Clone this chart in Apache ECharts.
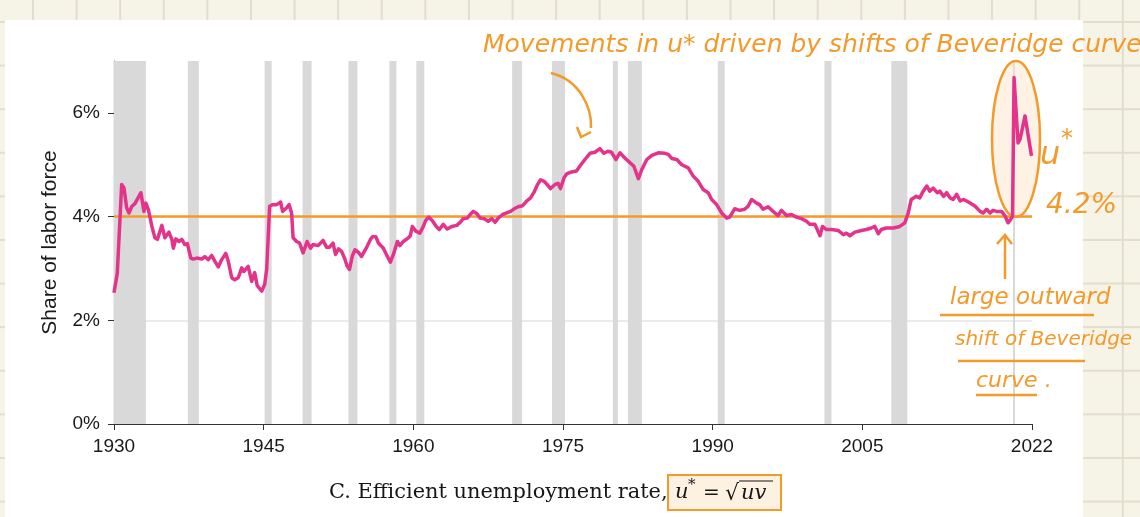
<!DOCTYPE html>
<html>
<head>
<meta charset="utf-8">
<script src="https://cdn.jsdelivr.net/npm/echarts@6/dist/echarts.min.js"></script>
<style>
  html, body {
    margin: 0;
    padding: 0;
  }
  body {
    width: 1140px;
    height: 517px;
    overflow: hidden;
    position: relative;
    background-color: #f6f3e7;
    background-image:
      linear-gradient(to right, #e2dece 1.5px, transparent 1.5px),
      linear-gradient(to bottom, #e2dece 1.5px, transparent 1.5px);
    background-size: 43.6px 43.6px;
    background-position: 32px 21px;
  }
  .panel {
    position: absolute;
    left: 5px;
    top: 20px;
    width: 1078px;
    height: 497px;
    background: #fff;
  }
  #chart {
    position: absolute;
    left: 0;
    top: 0;
    width: 1140px;
    height: 517px;
  }
</style>
</head>
<body>
<div class="panel"></div>
<div id="chart"></div>
<script>
// efficient unemployment rate u* (% of labor force)
var years = [
  1930.0, 1930.33, 1930.77, 1931.0, 1931.27, 1931.5, 1931.8, 1932.1, 1932.3, 1932.7,
  1932.85, 1933.0, 1933.2, 1933.45, 1933.8, 1934.1, 1934.35, 1934.8, 1935.1, 1935.5,
  1935.8, 1935.95, 1936.2, 1936.5, 1936.8, 1937.1, 1937.35, 1937.7, 1937.95, 1938.3,
  1938.8, 1939.1, 1939.45, 1939.8, 1940.1, 1940.45, 1940.8, 1941.2, 1941.45, 1941.8,
  1942.1, 1942.45, 1942.8, 1943.0, 1943.45, 1943.8, 1944.1, 1944.35, 1944.8, 1945.1,
  1945.3, 1945.6, 1945.9, 1946.3, 1946.7, 1946.9, 1947.2, 1947.55, 1947.8, 1947.95,
  1948.3, 1948.6, 1948.95, 1949.35, 1949.7, 1949.95, 1950.45, 1950.95, 1951.3, 1951.6,
  1951.95, 1952.2, 1952.5, 1952.8, 1953.1, 1953.35, 1953.6, 1953.9, 1954.15, 1954.5,
  1954.8, 1955.25, 1955.7, 1955.9, 1956.25, 1956.5, 1956.7, 1957.0, 1957.3, 1957.7,
  1958.0, 1958.4, 1958.65, 1959.0, 1959.5, 1959.7, 1959.9, 1960.25, 1960.65, 1961.0,
  1961.25, 1961.55, 1961.95, 1962.3, 1962.6, 1963.0, 1963.4, 1963.85, 1964.35, 1964.7,
  1965.0, 1965.4, 1965.7, 1966.0, 1966.35, 1966.7, 1967.1, 1967.5, 1967.85, 1968.2,
  1968.5, 1968.95, 1969.35, 1969.75, 1970.1, 1970.5, 1970.95, 1971.35, 1971.75, 1972.1,
  1972.4, 1972.75, 1973.1, 1973.4, 1973.75, 1974.2, 1974.5, 1974.75, 1975.1, 1975.4,
  1975.85, 1976.35, 1976.75, 1977.2, 1977.7, 1978.2, 1978.7, 1979.1, 1979.5, 1979.85,
  1980.3, 1980.7, 1981.2, 1981.7, 1982.1, 1982.55, 1982.9, 1983.4, 1983.9, 1984.55,
  1985.2, 1985.55, 1985.9, 1986.4, 1986.9, 1987.55, 1988.05, 1988.55, 1989.05, 1989.55,
  1989.9, 1990.4, 1990.9, 1991.4, 1991.7, 1992.2, 1992.7, 1993.2, 1993.55, 1993.9,
  1994.4, 1994.7, 1995.05, 1995.55, 1996.05, 1996.55, 1996.9, 1997.4, 1997.9, 1998.4,
  1998.9, 1999.4, 1999.75, 2000.25, 2000.75, 2001.0, 2001.4, 2001.9, 2002.6, 2003.1,
  2003.4, 2003.75, 2004.25, 2004.9, 2005.4, 2005.9, 2006.25, 2006.6, 2006.9, 2007.4,
  2008.1, 2008.75, 2009.25, 2009.6, 2009.9, 2010.4, 2010.75, 2011.1, 2011.45, 2011.75,
  2012.1, 2012.5, 2012.75, 2013.15, 2013.45, 2013.8, 2014.1, 2014.45, 2014.8, 2015.1,
  2015.45, 2015.8, 2016.3, 2016.8, 2017.1, 2017.45, 2017.8, 2018.1, 2018.45, 2018.95,
  2019.3, 2019.6, 2019.85, 2020.05, 2020.2, 2020.6, 2020.8, 2021.3, 2021.5, 2021.95
];
var uStar = [
  2.53, 2.91, 4.62, 4.55, 4.17, 4.07, 4.20, 4.25, 4.28, 4.46,
  4.46, 4.10, 4.26, 4.13, 3.81, 3.59, 3.56, 3.83, 3.59, 3.70,
  3.56, 3.39, 3.57, 3.52, 3.56, 3.46, 3.48, 3.20, 3.18, 3.20,
  3.18, 3.23, 3.17, 3.25, 3.14, 3.03, 3.17, 3.29, 3.14, 2.82,
  2.78, 2.82, 3.01, 2.94, 3.04, 2.75, 2.92, 2.67, 2.56, 2.69,
  2.98, 4.20, 4.23, 4.23, 4.28, 4.10, 4.15, 4.23, 4.07, 3.59,
  3.52, 3.49, 3.30, 3.52, 3.39, 3.46, 3.44, 3.54, 3.41, 3.41,
  3.49, 3.27, 3.38, 3.33, 3.20, 3.05, 2.98, 3.25, 3.36, 3.31,
  3.23, 3.38, 3.56, 3.61, 3.61, 3.49, 3.49, 3.39, 3.27, 3.12,
  3.27, 3.52, 3.44, 3.52, 3.59, 3.63, 3.81, 3.72, 3.68, 3.81,
  3.93, 3.99, 3.91, 3.81, 3.75, 3.85, 3.76, 3.81, 3.83, 3.89,
  3.96, 3.97, 4.04, 4.10, 4.06, 3.97, 3.96, 3.91, 3.96, 3.89,
  3.97, 4.04, 4.07, 4.10, 4.15, 4.19, 4.21, 4.30, 4.36, 4.47,
  4.60, 4.71, 4.68, 4.62, 4.54, 4.62, 4.64, 4.54, 4.75, 4.83,
  4.86, 4.88, 4.99, 5.10, 5.22, 5.24, 5.31, 5.22, 5.26, 5.24,
  5.10, 5.23, 5.13, 5.04, 4.97, 4.73, 4.91, 5.10, 5.18, 5.23,
  5.22, 5.20, 5.12, 5.10, 5.00, 4.94, 4.78, 4.68, 4.52, 4.46,
  4.33, 4.23, 4.07, 3.97, 3.99, 4.15, 4.12, 4.14, 4.20, 4.33,
  4.26, 4.23, 4.14, 4.19, 4.10, 4.02, 4.12, 4.02, 4.04, 3.99,
  3.96, 3.91, 3.85, 3.85, 3.63, 3.81, 3.75, 3.75, 3.73, 3.65,
  3.68, 3.63, 3.70, 3.73, 3.75, 3.78, 3.81, 3.67, 3.75, 3.78,
  3.78, 3.81, 3.88, 4.07, 4.33, 4.39, 4.36, 4.49, 4.59, 4.49,
  4.55, 4.46, 4.49, 4.39, 4.46, 4.36, 4.33, 4.43, 4.30, 4.33,
  4.30, 4.26, 4.20, 4.10, 4.07, 4.14, 4.07, 4.12, 4.10, 4.10,
  4.01, 3.88, 3.94, 4.01, 6.68, 5.42, 5.49, 5.94, 5.91, 5.17
];
// NBER recessions (shaded)
var recessionStart = [1930.0, 1937.4, 1945.1, 1948.9, 1953.5, 1957.6, 1960.3, 1969.9, 1973.9, 1980.0, 1981.5, 1990.5, 2001.2, 2007.9, 2020.1];
var recessionEnd   = [1933.2, 1938.5, 1945.8, 1949.8, 1954.4, 1958.3, 1961.1, 1970.9, 1975.2, 1980.5, 1982.9, 1991.2, 2001.9, 2009.5, 2020.3];
var xTickYears = [1930, 1945, 1960, 1975, 1990, 2005, 2022];
var yTickValues = [0, 2, 4, 6];
var targetRate = 4;

var ORANGE = "#f39a2b";
var HAND = "DejaVu Sans";

var chart = echarts.init(document.getElementById("chart"));

var recessionAreas = recessionStart.map(function (s, i) {
  return [{ xAxis: s }, { xAxis: recessionEnd[i] }];
});

// little helper for the orange scribbles
function note(text, x, y, size) {
  return {
    type: "text",
    z: 10,
    style: {
      text: text,
      x: x,
      y: y,
      verticalAlign: "middle",
      fill: ORANGE,
      font: "italic " + size + "px " + HAND,
    },
  };
}
function stroke(x1, y1, x2, y2) {
  return {
    type: "line",
    z: 10,
    shape: { x1: x1, y1: y1, x2: x2, y2: y2 },
    style: { stroke: ORANGE, lineWidth: 2.5 },
  };
}

var option = {
  backgroundColor: "transparent",
  animation: false,
  grid: {
    left: 114,
    right: 108,
    top: 61,
    bottom: 93,
  },
  xAxis: {
    type: "value",
    min: 1930,
    max: 2022,
    axisLine: {
      lineStyle: { color: "#333", width: 1.2 },
    },
    axisTick: {
      customValues: xTickYears,
      length: 6,
      lineStyle: { color: "#333" },
    },
    axisLabel: {
      customValues: xTickYears,
      formatter: function (v) {
        return String(v);
      },
      fontFamily: "Liberation Sans",
      fontSize: 19,
      color: "#1a1a1a",
      margin: 13,
    },
    splitLine: { show: false },
  },
  yAxis: {
    type: "value",
    min: 0,
    max: 7,
    interval: 2,
    name: "Share of labor force",
    nameLocation: "middle",
    nameGap: 53,
    nameTextStyle: {
      fontFamily: "Liberation Sans",
      fontSize: 21,
      color: "#1a1a1a",
    },
    axisLine: {
      show: true,
      lineStyle: { color: "#333", width: 1.2 },
    },
    axisTick: {
      show: true,
      customValues: yTickValues,
      length: 6,
      lineStyle: { color: "#333" },
    },
    axisLabel: {
      customValues: yTickValues,
      formatter: "{value}%",
      fontFamily: "Liberation Sans",
      fontSize: 19,
      color: "#1a1a1a",
      margin: 14,
    },
    splitLine: {
      show: true,
      showMinLine: false,
      showMaxLine: false,
      lineStyle: { color: "#e4e4e4", width: 1.5 },
    },
  },
  series: [
    {
      name: "recessions",
      type: "line",
      data: [],
      z: 1,
      silent: true,
      markArea: {
        silent: true,
        itemStyle: { color: "#d9d9d9" },
        data: recessionAreas,
      },
    },
    {
      name: "u*",
      type: "line",
      data: years.map(function (y, i) {
        return [y, uStar[i]];
      }),
      z: 5,
      showSymbol: false,
      symbol: "none",
      lineStyle: {
        color: "#e3338a",
        width: 3.5,
        join: "round",
      },
      markLine: {
        silent: true,
        symbol: "none",
        label: { show: false },
        lineStyle: { color: ORANGE, width: 2.5, type: "solid" },
        data: [{ yAxis: targetRate }],
      },
    },
  ],
  graphic: [
    // hand annotations
    {
      type: "ellipse",
      z: 3,
      shape: { cx: 1016, cy: 139, rx: 24, ry: 78 },
      style: { fill: "rgba(250,226,196,0.45)", stroke: ORANGE, lineWidth: 2.5 },
    },
    note("Movements in u* driven by shifts of Beveridge curve", 483, 45, 25),
    {
      type: "bezierCurve",
      z: 10,
      shape: { x1: 551, y1: 73, cpx1: 580, cpy1: 80, cpx2: 592, cpy2: 108, x2: 591, y2: 128 },
      style: { stroke: ORANGE, lineWidth: 2.5, fill: null },
    },
    {
      type: "polyline",
      z: 10,
      shape: { points: [[577, 127], [581, 137], [591, 132]] },
      style: { stroke: ORANGE, lineWidth: 2.5, fill: null },
    },
    note("u", 1040, 156, 32),
    {
      type: "text",
      z: 10,
      style: {
        text: "*",
        x: 1061,
        y: 140,
        verticalAlign: "middle",
        fill: ORANGE,
        font: "24px " + HAND,
      },
    },
    note("4.2%", 1046, 206, 28),
    stroke(1005, 279, 1005, 235),
    {
      type: "polyline",
      z: 10,
      shape: { points: [[997, 244], [1005, 235], [1012, 244]] },
      style: { stroke: ORANGE, lineWidth: 2.5, fill: null },
    },
    note("large outward", 950, 298, 23),
    stroke(940, 315, 1094, 315),
    note("shift of Beveridge", 955, 340, 20),
    stroke(958, 361, 1085, 361),
    note("curve .", 976, 381, 22),
    stroke(976, 395, 1037, 395),
    // panel title
    {
      type: "text",
      z: 10,
      style: {
        text: "C. Efficient unemployment rate,",
        x: 329,
        y: 493,
        verticalAlign: "middle",
        fill: "#161616",
        font: "20.9px 'DejaVu Serif'",
      },
    },
    {
      type: "rect",
      z: 9,
      shape: { x: 668, y: 475, width: 113, height: 35 },
      style: { fill: "#fdf1e2", stroke: ORANGE, lineWidth: 2 },
    },
    {
      type: "text",
      z: 10,
      style: {
        text: "u",
        x: 675,
        y: 493,
        verticalAlign: "middle",
        fill: "#161616",
        font: "italic 21px 'DejaVu Serif'",
      },
    },
    {
      type: "text",
      z: 10,
      style: {
        text: "*",
        x: 688,
        y: 485,
        verticalAlign: "middle",
        fill: "#161616",
        font: "15px 'DejaVu Serif'",
      },
    },
    {
      type: "text",
      z: 10,
      style: {
        text: "=",
        x: 703,
        y: 494,
        verticalAlign: "middle",
        fill: "#161616",
        font: "20px 'DejaVu Serif'",
      },
    },
    {
      type: "text",
      z: 10,
      style: {
        text: "\u221a",
        x: 725,
        y: 494,
        verticalAlign: "middle",
        fill: "#161616",
        font: "22px 'DejaVu Serif'",
      },
    },
    {
      type: "line",
      z: 10,
      shape: { x1: 739, y1: 481, x2: 773, y2: 481 },
      style: { stroke: "#161616", lineWidth: 1.2 },
    },
    {
      type: "text",
      z: 10,
      style: {
        text: "uv",
        x: 741,
        y: 494,
        verticalAlign: "middle",
        fill: "#161616",
        font: "italic 21px 'DejaVu Serif'",
      },
    },
  ],
};

chart.setOption(option);
window.addEventListener("resize", function () {
  chart.resize();
});
</script>
</body>
</html>
